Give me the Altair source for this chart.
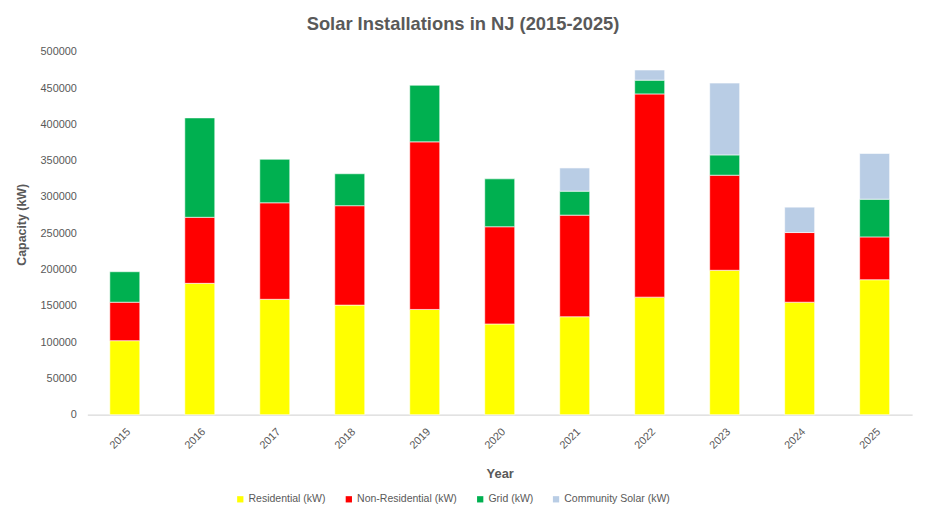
import altair as alt
import pandas as pd

years = ["2015", "2016", "2017", "2018", "2019", "2020", "2021", "2022", "2023", "2024", "2025"]
residential = [102000, 181000, 159000, 151000, 145000, 125000, 135000, 162000, 199000, 155000, 186000]
non_residential = [53000, 91000, 133000, 137000, 231000, 134000, 140000, 280000, 131000, 96000, 59000]
grid = [42000, 137000, 60000, 44000, 78000, 66000, 33000, 19000, 28000, 0, 52000]
community = [0, 0, 0, 0, 0, 0, 32000, 14000, 99000, 35000, 63000]

series_names = ["Residential (kW)", "Non-Residential (kW)", "Grid (kW)", "Community Solar (kW)"]
series_colors = ["#FFFF00", "#FF0000", "#00B050", "#B9CDE5"]
y_ticks = list(range(0, 500001, 50000))

rows = []
for i, y in enumerate(years):
    for k, vals in enumerate([residential, non_residential, grid, community]):
        if vals[i] > 0:
            rows.append({"Year": y, "Series": series_names[k], "Value": vals[i], "order": k})
df = pd.DataFrame(rows)

FONT = "Liberation Sans"
GRAY = "#595959"

chart = alt.Chart(df).mark_bar(stroke="white", strokeWidth=0.6).encode(
    x=alt.X("Year:N", sort=years,
            scale=alt.Scale(paddingInner=0.6, paddingOuter=0.3),
            axis=alt.Axis(title="Year", labelAngle=-45, labelFontSize=11, labelColor=GRAY,
                          labelFont=FONT, ticks=False, domainColor="#D9D9D9", domainWidth=1.2,
                          labelPadding=11, titleFont=FONT, titleFontSize=13, titleColor=GRAY,
                          titleFontWeight="bold", titlePadding=17)),
    y=alt.Y("Value:Q", stack="zero",
            scale=alt.Scale(domain=[0, 500000], nice=False),
            axis=alt.Axis(title="Capacity (kW)", values=y_ticks, format="d", grid=False,
                          domain=False, ticks=False, labelFontSize=11, labelColor=GRAY,
                          labelFont=FONT, labelPadding=11, titleFont=FONT, titleFontSize=12.5,
                          titleColor=GRAY, titleFontWeight="bold", titlePadding=12,
                          titleY=174)),
    color=alt.Color("Series:N", sort=series_names,
                    scale=alt.Scale(domain=series_names, range=series_colors),
                    legend=alt.Legend(title=None, orient="none", direction="horizontal",
                                      legendX=149, legendY=446, symbolType="square",
                                      symbolSize=40, symbolStrokeWidth=0, labelFont=FONT,
                                      labelFontSize=10.6, labelColor=GRAY, labelOffset=3,
                                      columnPadding=17.5)),
    order=alt.Order("order:Q"),
).properties(
    width=832,
    height=366,
    title=alt.TitleParams("Solar Installations in NJ (2015-2025)", font=FONT, fontSize=18.5,
                          fontWeight="bold", color=GRAY, anchor="middle", offset=13, dx=-37),
    autosize=alt.AutoSizeParams(type="none"),
    padding={"left": 80, "top": 42, "right": 16, "bottom": 104},
    background="white",
).configure_view(stroke=None)

chart.save("out.html", embed_options={"renderer": "svg", "actions": False})
